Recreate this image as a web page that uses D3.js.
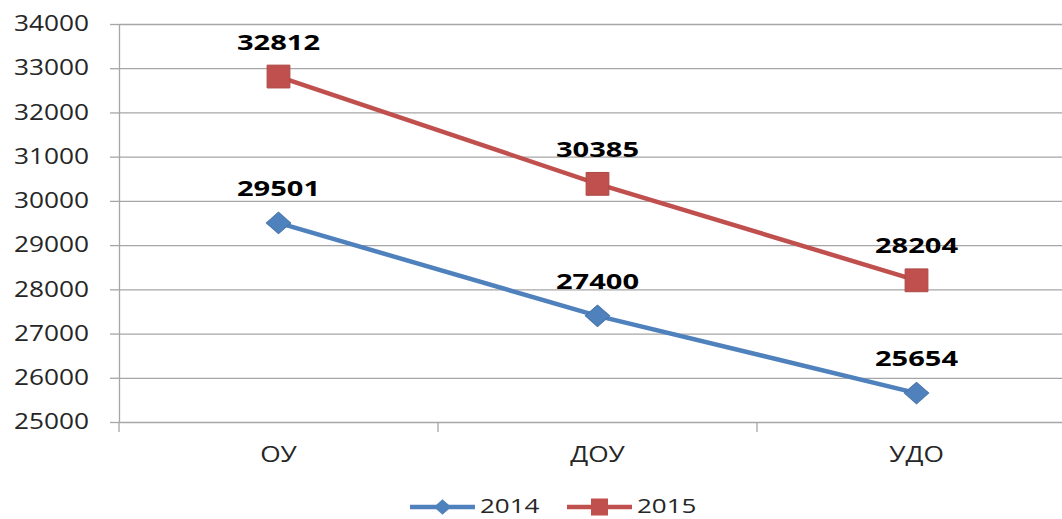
<!DOCTYPE html>
<html>
<head>
<meta charset="utf-8">
<script src="https://cdn.jsdelivr.net/npm/d3@7.9.0/dist/d3.min.js"></script>
<style>
  body { margin: 0; background: #fff; }
  svg { display: block; font-family: "Open Sans", "Liberation Sans", sans-serif; }
</style>
</head>
<body>
<svg id="chart" width="1062" height="519"></svg>
<script>
const categories = ['ОУ', 'ДОУ', 'УДО'];
const values2014 = [29501, 27400, 25654];
const values2015 = [32812, 30385, 28204];
const yTicks = [25000, 26000, 27000, 28000, 29000, 30000, 31000, 32000, 33000, 34000];

const series = [
  { name: '2014', values: values2014, color: '#4F81BD', rotate: 45, size: 300, legendSize: 150 },
  { name: '2015', values: values2015, color: '#C0504D', rotate: 0, size: 520, legendSize: 290 },
];

const svg = d3.select('#chart');
const plotLeft = 119, plotRight = 1076, plotTop = 24, plotBottom = 422;
const gridColor = '#a6a6a6';

const xScale = d3.scaleBand().domain(categories).range([plotLeft, plotRight]).padding(0);
const yScale = d3.scaleLinear().domain([25000, 34000]).range([plotBottom, plotTop]);

// stretch text horizontally, the source font is wider than ours
function widen(sel, k) {
  sel.each(function () {
    const w = this.getComputedTextLength();
    d3.select(this).attr('textLength', w * k).attr('lengthAdjust', 'spacingAndGlyphs');
  });
}

// gridlines
svg.append('g')
  .attr('transform', `translate(${plotLeft},0)`)
  .call(d3.axisLeft(yScale).tickValues(yTicks).tickFormat('').tickSize(-(plotRight - plotLeft)))
  .call(g => g.select('.domain').remove())
  .call(g => g.selectAll('line').attr('stroke', gridColor).attr('stroke-width', 1.3));

// y axis
svg.append('g')
  .attr('transform', `translate(${plotLeft},0)`)
  .call(d3.axisLeft(yScale).tickValues(yTicks).tickFormat(d3.format('d'))
    .tickSize(9).tickPadding(21).tickSizeOuter(0))
  .call(g => g.select('.domain').attr('stroke', gridColor).attr('stroke-width', 1.3))
  .call(g => g.selectAll('line').attr('stroke', gridColor).attr('stroke-width', 1.3))
  .call(g => g.selectAll('text').attr('fill', '#262626').style('font-size', '21px')
    .style('font-family', '"Open Sans", sans-serif').call(widen, 1.25));

// x axis
svg.append('g')
  .attr('transform', `translate(0,${plotBottom})`)
  .call(d3.axisBottom(xScale).tickSize(0).tickPadding(25).tickSizeOuter(0))
  .call(g => g.select('.domain').remove())
  .call(g => g.selectAll('text').attr('fill', '#262626').style('font-size', '21px')
    .style('font-family', '"Open Sans", sans-serif').call(widen, 1.25));

svg.append('g')
  .selectAll('line')
  .data(categories.map(c => xScale(c)).concat([plotRight]))
  .join('line')
  .attr('x1', d => d).attr('x2', d => d)
  .attr('y1', plotBottom).attr('y2', plotBottom + 10)
  .attr('stroke', gridColor).attr('stroke-width', 1.3);

const cx = c => xScale(c) + xScale.bandwidth() / 2;

const line = d3.line()
  .x((d, i) => cx(categories[i]))
  .y(d => yScale(d));

series.forEach(s => {
  svg.append('path')
    .datum(s.values)
    .attr('fill', 'none')
    .attr('stroke', s.color)
    .attr('stroke-width', 4.5)
    .attr('d', line);

  svg.append('g')
    .selectAll('path')
    .data(s.values)
    .join('path')
    .attr('transform', (d, i) =>
      `translate(${cx(categories[i])},${yScale(d)}) scale(1,${s.rotate ? 0.88 : 1}) rotate(${s.rotate})`)
    .attr('d', d3.symbol().type(d3.symbolSquare).size(s.size))
    .attr('fill', s.color)
    .attr('stroke', d3.color(s.color).darker(0.3))
    .attr('stroke-width', 1);

  svg.append('g')
    .selectAll('text')
    .data(s.values)
    .join('text')
    .attr('x', (d, i) => cx(categories[i]))
    .attr('y', d => yScale(d) - 27)
    .attr('text-anchor', 'middle')
    .style('font-size', '22px')
    .style('font-weight', 'bold')
    .attr('fill', '#000')
    .text(d => d)
    .call(widen, 1.32);
});

// legend
const legend = svg.append('g').attr('transform', 'translate(410,507)');
const legendX = [0, 157];
series.forEach((s, i) => {
  const g = legend.append('g').attr('transform', `translate(${legendX[i]},0)`);
  g.append('line')
    .attr('x1', 0).attr('x2', 65).attr('y1', 0).attr('y2', 0)
    .attr('stroke', s.color).attr('stroke-width', 4.5);
  g.append('path')
    .attr('transform', `translate(32.5,0) scale(1,${s.rotate ? 0.9 : 1}) rotate(${s.rotate})`)
    .attr('d', d3.symbol().type(d3.symbolSquare).size(s.legendSize))
    .attr('fill', s.color);
  g.append('text')
    .attr('x', 70).attr('y', 6)
    .style('font-size', '20px')
    .attr('fill', '#262626')
    .text(s.name)
    .call(widen, 1.3);
});
</script>
</body>
</html>
